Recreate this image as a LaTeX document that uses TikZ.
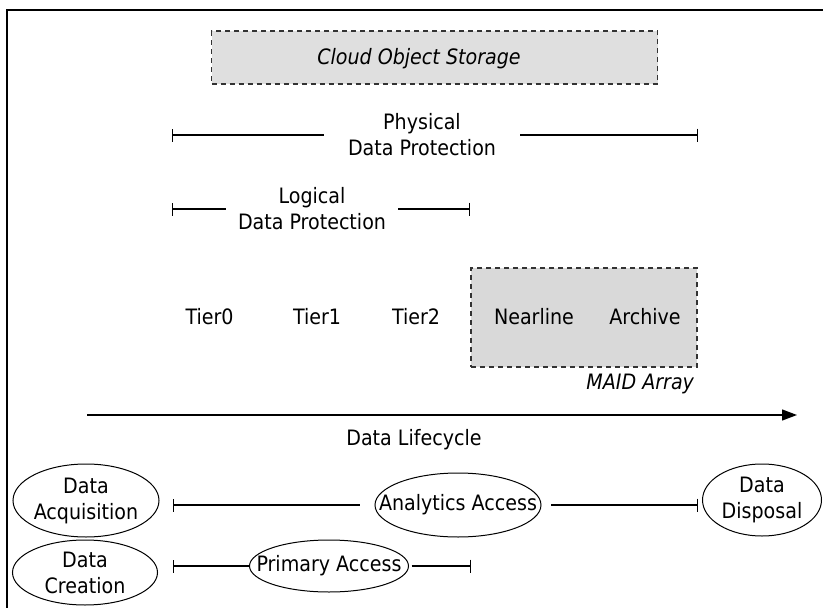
\documentclass[tikz,border=0pt]{standalone}
\usepackage{fontspec}
\setmainfont{DejaVu Sans Condensed}
\usetikzlibrary{arrows.meta,shapes.geometric}

\definecolor{cloudfill}{HTML}{DFDFDF}
\definecolor{maidfill}{HTML}{D9D9D9}
\definecolor{dashline}{HTML}{333333}

\newcommand{\labelfont}{\fontsize{21.2}{26}\selectfont}

\tikzset{
  every node/.style={font=\labelfont, inner sep=0pt, outer sep=0pt},
  label text/.style={anchor=base},
  spanline/.style={line width=1.3pt},
  barstart/.style={{Bar[width=13pt,line width=1.3pt]}-},
  barend/.style={-{Bar[width=13pt,line width=1.3pt]}},
  groupbox/.style={draw=dashline, line width=1.3pt, dash pattern=on 5pt off 4pt},
  stage/.style={draw, ellipse, line width=1pt},
  span label/.style={align=center},
}

\begin{document}
\begin{tikzpicture}[x=1pt, y=-1pt]
  \path[use as bounding box] (0,0) rectangle (823,608);
  \clip (0,0) rectangle (823,608);

  % outer frame (runs off the right and bottom edges)
  \draw[line width=1.3pt] (830,10) -- (7,10) -- (7,620);

  % cloud object storage tier
  \node[groupbox, fill=cloudfill, minimum width=446, minimum height=53] (cloud) at (434.5,57.5) {};
  \node[label text, font=\labelfont\itshape] (cloudtext) at (419,64) {Cloud Object Storage};

  % physical data protection span
  \node[span label, minimum width=196] (phys) at (422,135) {Physical\\Data Protection};
  \coordinate (physL) at (172,135);
  \coordinate (physR) at (698,135);
  \draw[spanline, barstart] (physL) -- (phys);
  \draw[spanline, barend] (phys) -- (physR);

  % logical data protection span
  \node[span label, minimum width=172] (logic) at (312,209) {Logical\\Data Protection};
  \coordinate (logicL) at (172,209);
  \coordinate (logicR) at (470,209);
  \draw[spanline, barstart] (logicL) -- (logic);
  \draw[spanline, barend] (logic) -- (logicR);

  % MAID array grouping
  \node[groupbox, fill=maidfill, minimum width=226, minimum height=99] (maid) at (584,317.5) {};
  \node[anchor=base east, font=\labelfont\itshape] (maidtext) at (694,389) {MAID Array};

  % storage tiers
  \node[label text] (tier0) at (209.5,324) {Tier0};
  \node[label text] (tier1) at (317,324) {Tier1};
  \node[label text] (tier2) at (416,324) {Tier2};
  \node[label text] (nearline) at (534,324) {Nearline};
  \node[label text] (archive) at (645,324) {Archive};

  % data lifecycle axis
  \coordinate (lifeS) at (87,415);
  \coordinate (lifeE) at (797,415);
  \draw[spanline, -{Triangle[length=15pt,width=11pt]}] (lifeS) -- (lifeE);
  \node[label text] (lifetext) at (414,445) {Data Lifecycle};

  % lifecycle stages
  \node[stage, minimum width=146, minimum height=73] (acq) at (86,500.5) {};
  \node[span label] at (acq) {Data\\Acquisition};
  \node[stage, minimum width=166, minimum height=64] (analytics) at (458,505) {};
  \node at (analytics) {Analytics Access};
  \node[stage, minimum width=119, minimum height=72] (disposal) at (762,500) {};
  \node[span label] at (disposal) {Data\\Disposal};
  \node[stage, minimum width=145, minimum height=65] (creation) at (85,572.5) {};
  \node[span label] at (creation) {Data\\Creation};
  \node[stage, minimum width=159, minimum height=52] (primary) at (329,566) {};
  \node at (primary) {Primary Access};

  % access spans
  \coordinate (anaL) at (173,505);
  \coordinate (anaR) at (698,505);
  \draw[spanline, barstart, shorten >=15pt] (anaL) -- (analytics);
  \draw[spanline, barend, shorten <=10pt] (analytics) -- (anaR);
  \coordinate (primL) at (173,566);
  \coordinate (primR) at (471,566);
  \draw[spanline, barstart] (primL) -- (primary);
  \draw[spanline, barend, shorten <=3pt] (primary) -- (primR);
\end{tikzpicture}
\end{document}
